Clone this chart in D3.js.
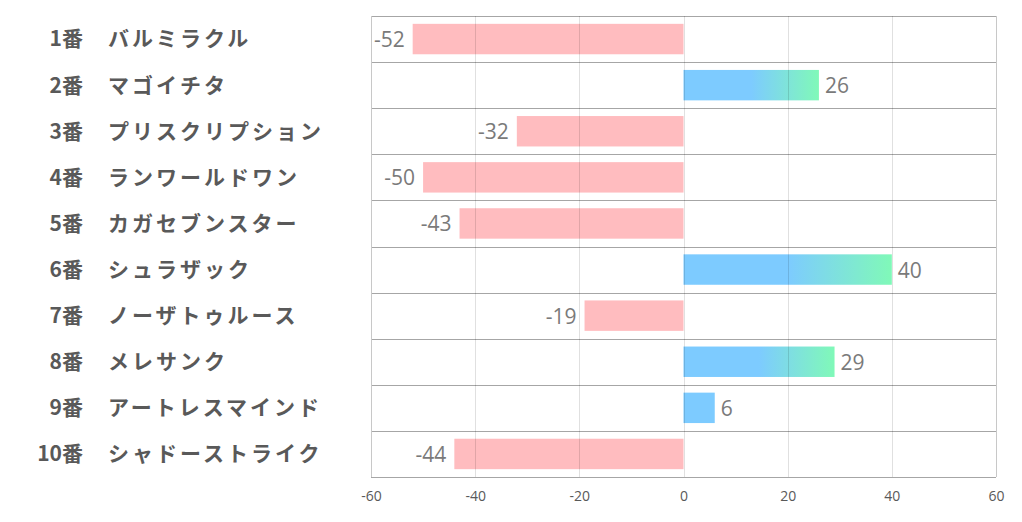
<!DOCTYPE html>
<html>
<head>
<meta charset="utf-8">
<script src="https://cdn.jsdelivr.net/npm/d3@7"></script>
<style>
  body { margin: 0; background: #fff; }
  svg { display: block; }
  .num { font-family: "Noto Sans CJK JP", "Noto Sans", sans-serif; font-weight: bold; fill: #595959; font-size: 21px; }
  .name { font-family: "Noto Sans CJK JP", sans-serif; font-weight: bold; fill: #595959; font-size: 21px; }
  .val { font-family: "Open Sans", "Noto Sans", sans-serif; fill: #7a7a7a; font-size: 21px; }
  .tick text { font-family: "Open Sans", "Noto Sans", sans-serif; fill: #595959; font-size: 14px; }
</style>
</head>
<body>
<svg id="chart" width="1022" height="522"></svg>
<script>
// 馬番・馬名・値
const numbers = ["1番", "2番", "3番", "4番", "5番", "6番", "7番", "8番", "9番", "10番"];
const names = ["バルミラクル", "マゴイチタ", "プリスクリプション", "ランワールドワン", "カガセブンスター",
               "シュラザック", "ノーザトゥルース", "メレサンク", "アートレスマインド", "シャドーストライク"];
const values = [-52, 26, -32, -50, -43, 40, -19, 29, 6, -44];
const ticks = [-60, -40, -20, 0, 20, 40, 60];

const W = 1022, H = 522;
const m = { left: 371, right: 26, top: 16, bottom: 45 };

const svg = d3.select("#chart");

const x = d3.scaleLinear().domain([-60, 60]).range([m.left, W - m.right]);
const y = d3.scaleBand().domain(d3.range(values.length)).range([m.top, H - m.bottom]).paddingInner(0).paddingOuter(0);
const barH = y.bandwidth() * 0.66;

// グラデーション（正の値）
const defs = svg.append("defs");
const grad = defs.append("linearGradient").attr("id", "posGrad")
  .attr("x1", 0).attr("x2", 1).attr("y1", 0).attr("y2", 0);
grad.append("stop").attr("offset", "0.5").attr("stop-color", "#7dcbff");
grad.append("stop").attr("offset", "1").attr("stop-color", "#80f9b8");

// 行の区切り線
svg.append("g").selectAll("line")
  .data(d3.range(values.length + 1))
  .join("line")
  .attr("x1", m.left).attr("x2", W - m.right)
  .attr("y1", i => Math.round(m.top + i * y.bandwidth()) + 0.5)
  .attr("y2", i => Math.round(m.top + i * y.bandwidth()) + 0.5)
  .attr("stroke", "#a6a6a6").attr("stroke-width", 1);

// バー
svg.append("g").selectAll("rect")
  .data(values)
  .join("rect")
  .attr("x", d => x(Math.min(0, d)))
  .attr("width", d => Math.abs(x(d) - x(0)))
  .attr("y", (d, i) => y(i) + (y.bandwidth() - barH) / 2)
  .attr("height", barH)
  .attr("fill", d => d < 0 ? "#ffbcbf" : (d >= 10 ? "url(#posGrad)" : "#7dcbff"));

// 縦のグリッド線（バーの上に薄く）
svg.append("g").selectAll("line")
  .data(ticks)
  .join("line")
  .attr("x1", d => Math.round(x(d)) + 0.5).attr("x2", d => Math.round(x(d)) + 0.5)
  .attr("y1", m.top).attr("y2", H - m.bottom)
  .attr("stroke", d => (d === -60 || d === 60) ? "#c8c8c8" : "rgba(0,0,0,0.12)")
  .attr("stroke-width", 1);

// 値ラベル
svg.append("g").selectAll("text")
  .data(values)
  .join("text")
  .attr("class", "val")
  .attr("x", d => d < 0 ? x(d) - 8 : x(d) + 6)
  .attr("y", (d, i) => y(i) + y.bandwidth() / 2)
  .attr("dy", "0.38em")
  .attr("text-anchor", d => d < 0 ? "end" : "start")
  .text(d => d);

// 左側のラベル
const lab = svg.append("g");
lab.selectAll("text.num")
  .data(numbers)
  .join("text")
  .attr("class", "num")
  .attr("x", 83)
  .attr("y", (d, i) => y(i) + y.bandwidth() / 2)
  .attr("dy", "0.35em")
  .attr("text-anchor", "end")
  .text(d => d);
lab.selectAll("text.name")
  .data(names)
  .join("text")
  .attr("class", "name")
  .attr("x", 108)
  .attr("y", (d, i) => y(i) + y.bandwidth() / 2)
  .attr("dy", "0.35em")
  .attr("letter-spacing", "3px")
  .text(d => d);

// X軸
const axis = svg.append("g")
  .attr("transform", `translate(0,${H - m.bottom})`)
  .call(d3.axisBottom(x).tickValues(ticks).tickSize(0).tickPadding(14).tickFormat(d => String(d)));
axis.select(".domain").remove();
</script>
</body>
</html>
